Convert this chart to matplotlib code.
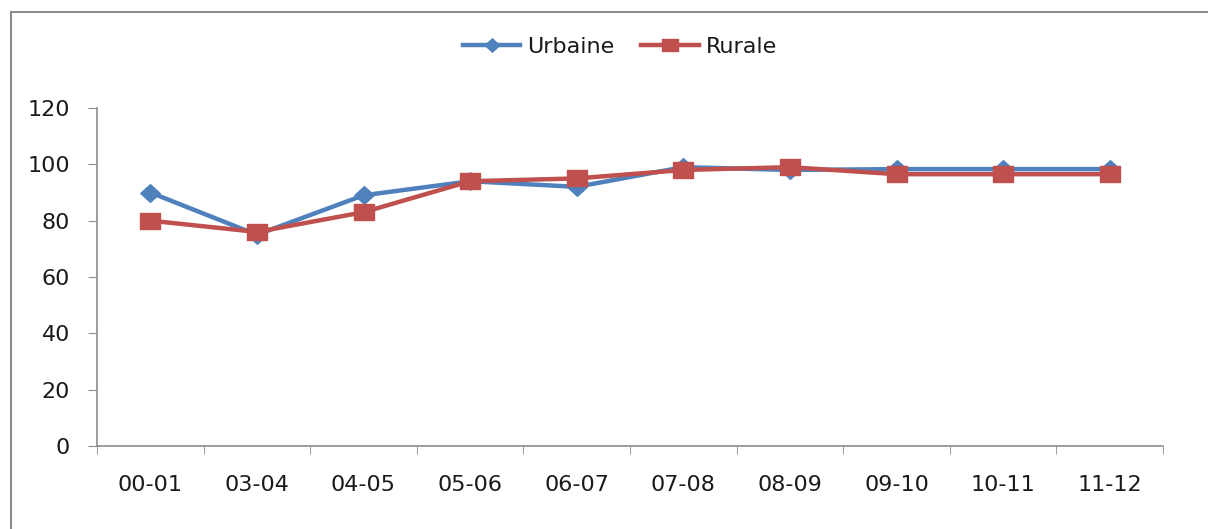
import matplotlib
matplotlib.use("Agg")
import matplotlib.pyplot as plt
from matplotlib.patches import Rectangle
from matplotlib.path import Path

categories = ["00-01", "03-04", "04-05", "05-06", "06-07", "07-08", "08-09", "09-10", "10-11", "11-12"]
urbaine = [90, 75, 89, 94, 92, 99, 98, 98.3, 98.3, 98.3]
rurale = [80, 76, 83, 94, 95, 98, 99, 96.5, 96.5, 96.5]
yticks = [0, 20, 40, 60, 80, 100, 120]

plt.rcParams['font.family'] = ['DejaVu Sans']
fig = plt.figure(figsize=(12.08, 5.29), dpi=100)
ax = fig.add_axes([97/1208, 83/529, (1163-97)/1208, (446-108)/529])

fig.patches.append(Rectangle((11/1208, -0.05), 1.2, 1.05 - 12/529,
                             transform=fig.transFigure, fill=False,
                             edgecolor="#8c8c8c", linewidth=1.5))

wide_square = Path([(-1.3, -1), (1.3, -1), (1.3, 1), (-1.3, 1), (-1.3, -1)],
                   [Path.MOVETO, Path.LINETO, Path.LINETO, Path.LINETO, Path.CLOSEPOLY])
wide_diamond = Path([(0, -1), (1.1, 0), (0, 1), (-1.1, 0), (0, -1)],
                    [Path.MOVETO, Path.LINETO, Path.LINETO, Path.LINETO, Path.CLOSEPOLY])

x = list(range(len(categories)))
ax.plot(x, urbaine, color="#4F81BD", linewidth=3.2, marker=wide_diamond, markersize=14,
        label="Urbaine")
ax.plot(x, rurale, color="#C0504D", linewidth=3.2, marker=wide_square, markersize=15,
        label="Rurale")

ax.set_xlim(-0.5, len(categories) - 0.5)
ax.set_ylim(0, 120)
ax.set_yticks(yticks)
ax.set_yticklabels([str(v) for v in yticks], fontsize=16, color="#1a1a1a")
ax.set_xticks(x)
ax.set_xticklabels(categories, fontsize=16, color="#1a1a1a")
ax.set_xticks([i - 0.5 for i in range(len(categories) + 1)], minor=True)
ax.tick_params(axis="x", which="major", length=0, pad=21)
ax.tick_params(axis="x", which="minor", length=6, color="#8c8c8c", direction="out")
ax.tick_params(axis="y", length=6.5, color="#8c8c8c", pad=13)

for s in ["top", "right"]:
    ax.spines[s].set_visible(False)
for s in ["left", "bottom"]:
    ax.spines[s].set_color("#8c8c8c")
    ax.spines[s].set_linewidth(1.2)

fig.legend(loc="center", bbox_to_anchor=(0.513, 1 - 47/529), ncol=2, frameon=False,
           fontsize=16, handlelength=2.6, columnspacing=1.2, handletextpad=0.3,
           markerscale=0.75, labelcolor="#1a1a1a")

fig.savefig("out.png", dpi=100)
